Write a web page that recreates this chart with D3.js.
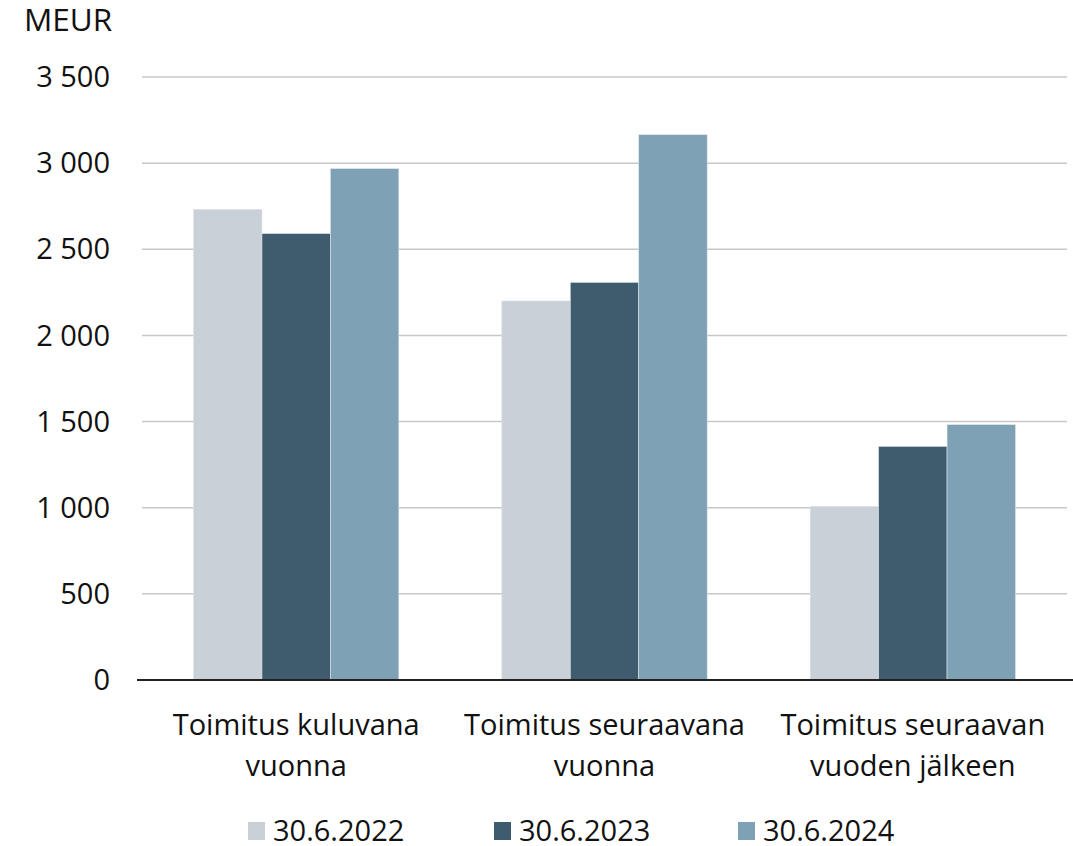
<!DOCTYPE html>
<html><head><meta charset="utf-8">
<script src="https://cdn.jsdelivr.net/npm/d3@7"></script>
<style>body{margin:0;background:#fff;} text{font-family:"Open Sans",sans-serif;fill:#111;}</style>
</head><body><svg id="c" width="1073" height="846"></svg>
<script>
const categories = [["Toimitus kuluvana","vuonna"],["Toimitus seuraavana","vuonna"],["Toimitus seuraavan","vuoden jälkeen"]];
const seriesNames = ["30.6.2022","30.6.2023","30.6.2024"];
const s2022 = [2732, 2200, 1008];
const s2023 = [2591, 2308, 1356];
const s2024 = [2968, 3165, 1482];
const yTicks = [0,500,1000,1500,2000,2500,3000,3500];
const colors = ["#c9d0d7","#3f5b6e","#7ea1b5"];
const series = [s2022, s2023, s2024];

const FS = 29;
const svg = d3.select("#c");
const L=142, R=1067, T=77, B=680;
const x0 = d3.scaleBand().domain(d3.range(categories.length)).range([L,R]).paddingInner(0).paddingOuter(0);
const x1 = d3.scaleBand().domain(d3.range(series.length)).range([0, x0.bandwidth()*0.666]);
const y = d3.scaleLinear().domain([0,3500]).range([B,T]);
const fmt = v => d3.format(",")(v).replace(/,/g," ");

svg.append("g").selectAll("line").data(yTicks.filter(d=>d>0)).join("line")
  .attr("x1",L).attr("x2",R).attr("y1",d=>y(d)).attr("y2",d=>y(d))
  .attr("stroke","#c8c8cc").attr("stroke-width",1.5);
svg.append("g").selectAll("text").data(yTicks).join("text")
  .attr("x",110).attr("y",d=>y(d)).attr("dy","0.35em").attr("text-anchor","end")
  .attr("font-size",FS).text(fmt);
svg.append("text").attr("x",24).attr("y",20).attr("dy","0.35em").attr("font-size",31.5).text("MEUR");

const off = x0.bandwidth()*0.167;
series.forEach((s,si)=>{
  svg.append("g").selectAll("rect").data(s).join("rect")
    .attr("x",(d,i)=>x0(i)+off+x1(si)).attr("width",x1.bandwidth())
    .attr("y",d=>y(d)).attr("height",d=>B-y(d))
    .attr("fill",colors[si]).attr("stroke","#dfe4e8").attr("stroke-width",0.6);
});
svg.append("line").attr("x1",L-5).attr("x2",R+6).attr("y1",B).attr("y2",B).attr("stroke","#222").attr("stroke-width",2);

const cl = svg.append("g").selectAll("text").data(categories).join("text")
  .attr("x",(d,i)=>x0(i)+x0.bandwidth()/2).attr("text-anchor","middle").attr("font-size",FS);
cl.each(function(d){
  const cx = d3.select(this).attr("x");
  d3.select(this).selectAll("tspan").data(d).join("tspan")
    .attr("x",cx).attr("y",(t,j)=>725+j*41).attr("dy","0.35em").text(t=>t);
});

const legX = [248, 494, 738];
const lg = svg.append("g").selectAll("g").data(seriesNames).join("g")
  .attr("transform",(d,i)=>`translate(${legX[i]},831)`);
lg.append("rect").attr("x",0).attr("y",-9).attr("width",17).attr("height",18).attr("fill",(d,i)=>colors[i]);
lg.append("text").attr("x",25).attr("dy","0.35em").attr("font-size",FS).text(d=>d);
</script></body></html>
